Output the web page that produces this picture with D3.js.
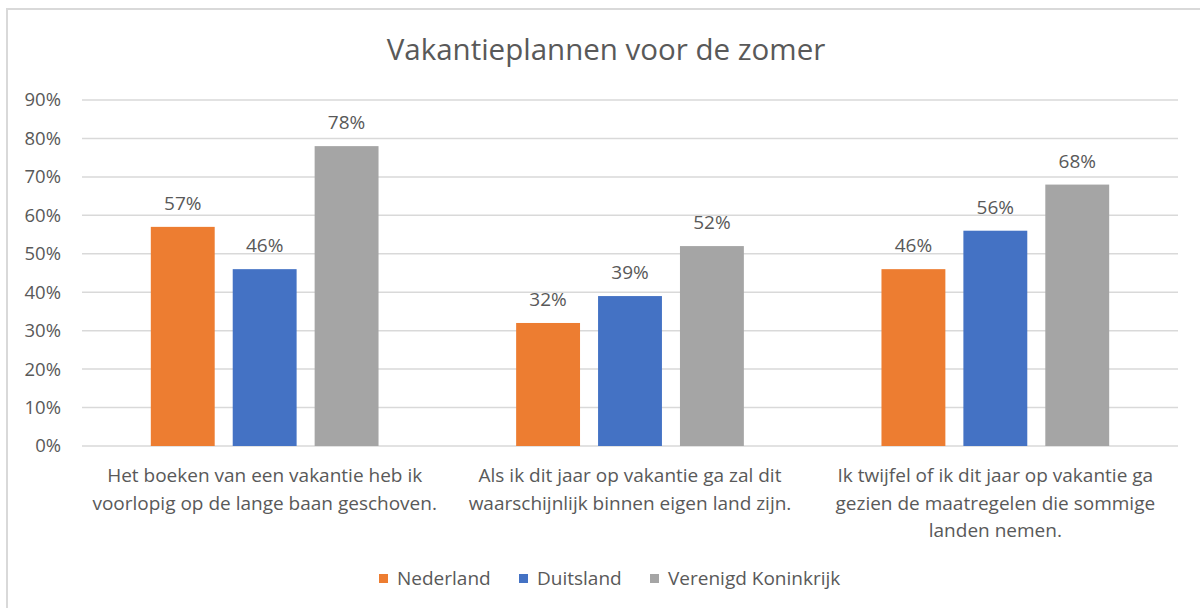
<!DOCTYPE html>
<meta charset="utf-8">
<style>
body { margin: 0; background: #fff; }
text { font-family: "Open Sans", sans-serif; fill: #595959; }
</style>
<body>
<div id="container"></div>
<script src="https://cdn.jsdelivr.net/npm/d3@7"></script>
<script>

// Data
var categories = [
  ["Het boeken van een vakantie heb ik", "voorlopig op de lange baan geschoven."],
  ["Als ik dit jaar op vakantie ga zal dit", "waarschijnlijk binnen eigen land zijn."],
  ["Ik twijfel of ik dit jaar op vakantie ga", "gezien de maatregelen die sommige", "landen nemen."]
];
var seriesNames = ["Nederland", "Duitsland", "Verenigd Koninkrijk"];
var nederland = [57, 32, 46];
var duitsland = [46, 39, 56];
var verenigdKoninkrijk = [78, 52, 68];
var yTicks = [0, 10, 20, 30, 40, 50, 60, 70, 80, 90];
var colors = ["#ED7D31", "#4472C4", "#A5A5A5"];

var series = [nederland, duitsland, verenigdKoninkrijk];

var width = 1200, height = 608;
var plot = {left: 82, right: 1178, top: 100, bottom: 446};

var svg = d3.select("#container").append("svg")
    .attr("width", width)
    .attr("height", height);

// Frame (runs off the right and bottom edge in the reference)
svg.append("rect")
    .attr("x", 7).attr("y", 9)
    .attr("width", 1220).attr("height", 640)
    .attr("fill", "none")
    .attr("stroke", "#D9D9D9")
    .attr("stroke-width", 2);

// Title
svg.append("text")
    .attr("x", 606).attr("y", 60)
    .attr("text-anchor", "middle")
    .style("font-size", "29.5px")
    .text("Vakantieplannen voor de zomer");

// Scales
var x0 = d3.scaleBand().domain(d3.range(categories.length))
    .range([plot.left, plot.right]).padding(0);
var x1 = d3.scaleBand().domain(d3.range(series.length))
    .range([0, x0.bandwidth()]).paddingInner(0.22).paddingOuter(0.84);
var y = d3.scaleLinear().domain([0, 90]).range([plot.bottom, plot.top]);

// Gridlines
svg.append("g").selectAll("line").data(yTicks).join("line")
    .attr("x1", plot.left).attr("x2", plot.right)
    .attr("y1", function(d) { return y(d); })
    .attr("y2", function(d) { return y(d); })
    .attr("stroke", "#D9D9D9")
    .attr("stroke-width", 1.5);

// Y axis labels
var yAxis = d3.axisLeft(y).tickValues(yTicks)
    .tickFormat(function(d) { return d + "%"; })
    .tickSize(0).tickPadding(0);
svg.append("g")
    .attr("transform", "translate(61,0)")
    .call(yAxis)
    .call(function(g) { g.select(".domain").remove(); })
    .selectAll("text")
    .style("font-size", "18.5px")
    .attr("fill", "#595959")
    .attr("font-family", "Open Sans, sans-serif");

// Bars
var groups = svg.append("g").selectAll("g").data(categories).join("g")
    .attr("transform", function(d, i) { return "translate(" + x0(i) + ",0)"; });

groups.each(function(c, ci) {
  var g = d3.select(this);
  var vals = series.map(function(s) { return s[ci]; });
  g.selectAll("rect").data(vals).join("rect")
      .attr("x", function(d, si) { return x1(si); })
      .attr("y", function(d) { return y(d); })
      .attr("width", x1.bandwidth())
      .attr("height", function(d) { return y(0) - y(d); })
      .attr("fill", function(d, si) { return colors[si]; });
  g.selectAll("text.label").data(vals).join("text")
      .attr("class", "label")
      .attr("x", function(d, si) { return x1(si) + x1.bandwidth() / 2; })
      .attr("y", function(d) { return y(d) - 17; })
      .attr("text-anchor", "middle")
      .style("font-size", "19px")
      .text(function(d) { return d + "%"; });
});

// Category labels
var catLabels = svg.append("g").selectAll("text").data(categories).join("text")
    .attr("x", function(d, i) { return x0(i) + x0.bandwidth() / 2; })
    .attr("y", 482)
    .attr("text-anchor", "middle")
    .style("font-size", "19px");
catLabels.selectAll("tspan").data(function(d) { return d; }).join("tspan")
    .attr("x", function() { return d3.select(this.parentNode).attr("x"); })
    .attr("dy", function(d, i) { return i === 0 ? 0 : 27.5; })
    .text(function(d) { return d; });

// Legend
var legendX = [379, 519, 650];
var legend = svg.append("g").selectAll("g").data(seriesNames).join("g")
    .attr("transform", function(d, i) { return "translate(" + legendX[i] + ",574)"; });
legend.append("rect")
    .attr("width", 9).attr("height", 9)
    .attr("fill", function(d, i) { return colors[i]; });
legend.append("text")
    .attr("x", 18).attr("y", 11)
    .style("font-size", "19px")
    .text(function(d) { return d; });

</script>
</body>
